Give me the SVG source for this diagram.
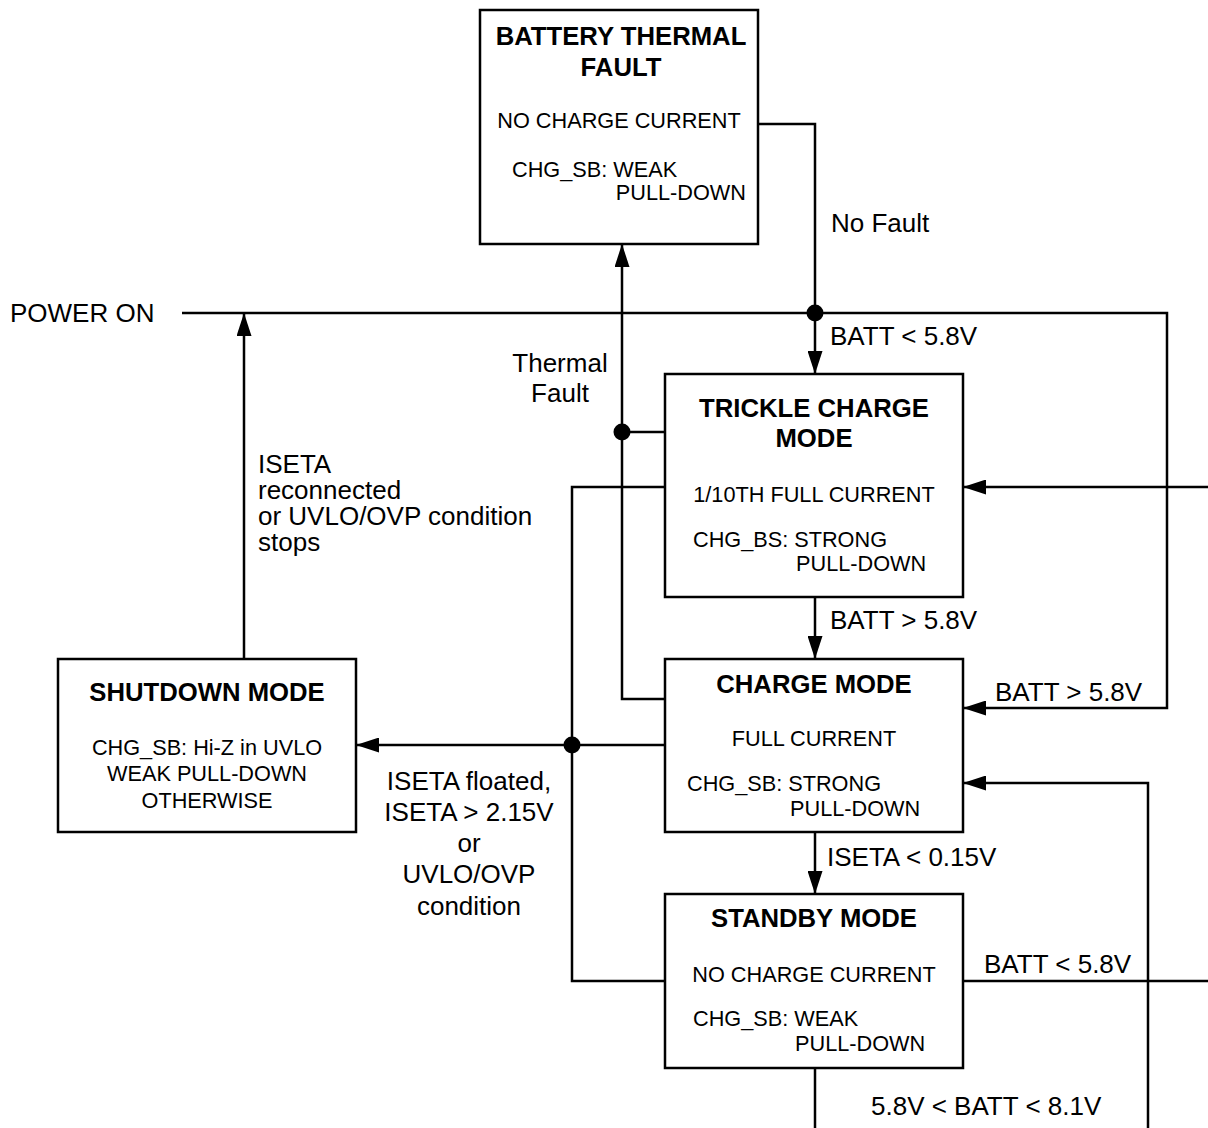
<svg xmlns="http://www.w3.org/2000/svg" width="1208" height="1128" viewBox="0 0 1208 1128">
<style>
text{font-family:"Liberation Sans",Arial,sans-serif;fill:#000}
.t{font-size:25.7px;font-weight:bold;text-anchor:middle}
.b{font-size:21.7px}
.c{text-anchor:middle}
.l{font-size:26px}
.box{fill:#fff;stroke:#000;stroke-width:2.5}
.w{fill:none;stroke:#000;stroke-width:2.5}
.dot{fill:#000}
</style>
<defs>
<marker id="ah" markerUnits="userSpaceOnUse" markerWidth="23" markerHeight="15" refX="23" refY="7.5" orient="auto">
<path d="M0,0 L23,7.5 L0,15 Z" fill="#000"/>
</marker>
</defs>
<rect width="1208" height="1128" fill="#fff"/>
<g id="connectors">
<path class="w" d="M758,124 H815 V374" marker-end="url(#ah)"/>
<path class="w" d="M182,313 H1167 V708 H963" marker-end="url(#ah)"/>
<path class="w" d="M1208,487 H963" marker-end="url(#ah)"/>
<path class="w" d="M815,597 V659" marker-end="url(#ah)"/>
<path class="w" d="M665,699 H622 V244" marker-end="url(#ah)"/>
<path class="w" d="M665,432 H622"/>
<path class="w" d="M665,487 H572 V981 H665"/>
<path class="w" d="M665,745 H356" marker-end="url(#ah)"/>
<path class="w" d="M244,659 V313" marker-end="url(#ah)"/>
<path class="w" d="M815,832 V894" marker-end="url(#ah)"/>
<path class="w" d="M963,981 H1208"/>
<path class="w" d="M1148,1128 V783 H963" marker-end="url(#ah)"/>
<path class="w" d="M815,1068 V1128"/>
<circle class="dot" cx="815" cy="313" r="8.5"/>
<circle class="dot" cx="622" cy="432" r="8.5"/>
<circle class="dot" cx="572" cy="745" r="8.5"/>
<text class="l" x="831" y="232">No Fault</text>
<text class="l" x="10" y="322">POWER ON</text>
<text class="l" x="830" y="345">BATT &lt; 5.8V</text>
<text class="l c" x="560" y="372">Thermal</text>
<text class="l c" x="560" y="402">Fault</text>
<text class="l" x="258" y="473">ISETA</text>
<text class="l" x="258" y="499">reconnected</text>
<text class="l" x="258" y="525">or UVLO/OVP condition</text>
<text class="l" x="258" y="551">stops</text>
<text class="l" x="830" y="629">BATT &gt; 5.8V</text>
<text class="l" x="995" y="701">BATT &gt; 5.8V</text>
<text class="l c" x="469" y="790">ISETA floated,</text>
<text class="l c" x="469" y="821">ISETA &gt; 2.15V</text>
<text class="l c" x="469" y="852">or</text>
<text class="l c" x="469" y="883">UVLO/OVP</text>
<text class="l c" x="469" y="915">condition</text>
<text class="l" x="827" y="866">ISETA &lt; 0.15V</text>
<text class="l" x="984" y="973">BATT &lt; 5.8V</text>
<text class="l" x="871" y="1115">5.8V &lt; BATT &lt; 8.1V</text>
</g>
<g id="thermal-fault">
<rect class="box" x="480" y="10" width="278" height="234"/>
<text class="t" x="621" y="45">BATTERY THERMAL</text>
<text class="t" x="621" y="76">FAULT</text>
<text class="b c" x="619" y="128">NO CHARGE CURRENT</text>
<text class="b" x="512" y="177">CHG_SB: WEAK</text>
<text class="b" x="746" y="200" text-anchor="end">PULL-DOWN</text>
</g>
<g id="trickle-charge">
<rect class="box" x="665" y="374" width="298" height="223"/>
<text class="t" x="814" y="417">TRICKLE CHARGE</text>
<text class="t" x="814" y="447">MODE</text>
<text class="b c" x="814" y="502">1/10TH FULL CURRENT</text>
<text class="b" x="693" y="547">CHG_BS: STRONG</text>
<text class="b" x="796" y="571">PULL-DOWN</text>
</g>
<g id="charge-mode">
<rect class="box" x="665" y="659" width="298" height="173"/>
<text class="t" x="814" y="693">CHARGE MODE</text>
<text class="b c" x="814" y="746">FULL CURRENT</text>
<text class="b" x="687" y="791">CHG_SB: STRONG</text>
<text class="b" x="790" y="816">PULL-DOWN</text>
</g>
<g id="standby-mode">
<rect class="box" x="665" y="894" width="298" height="174"/>
<text class="t" x="814" y="927">STANDBY MODE</text>
<text class="b c" x="814" y="982">NO CHARGE CURRENT</text>
<text class="b" x="693" y="1026">CHG_SB: WEAK</text>
<text class="b" x="795" y="1051">PULL-DOWN</text>
</g>
<g id="shutdown-mode">
<rect class="box" x="58" y="659" width="298" height="173"/>
<text class="t" x="207" y="701">SHUTDOWN MODE</text>
<text class="b c" x="207" y="755">CHG_SB: Hi-Z in UVLO</text>
<text class="b c" x="207" y="781">WEAK PULL-DOWN</text>
<text class="b c" x="207" y="808">OTHERWISE</text>
</g>
</svg>
